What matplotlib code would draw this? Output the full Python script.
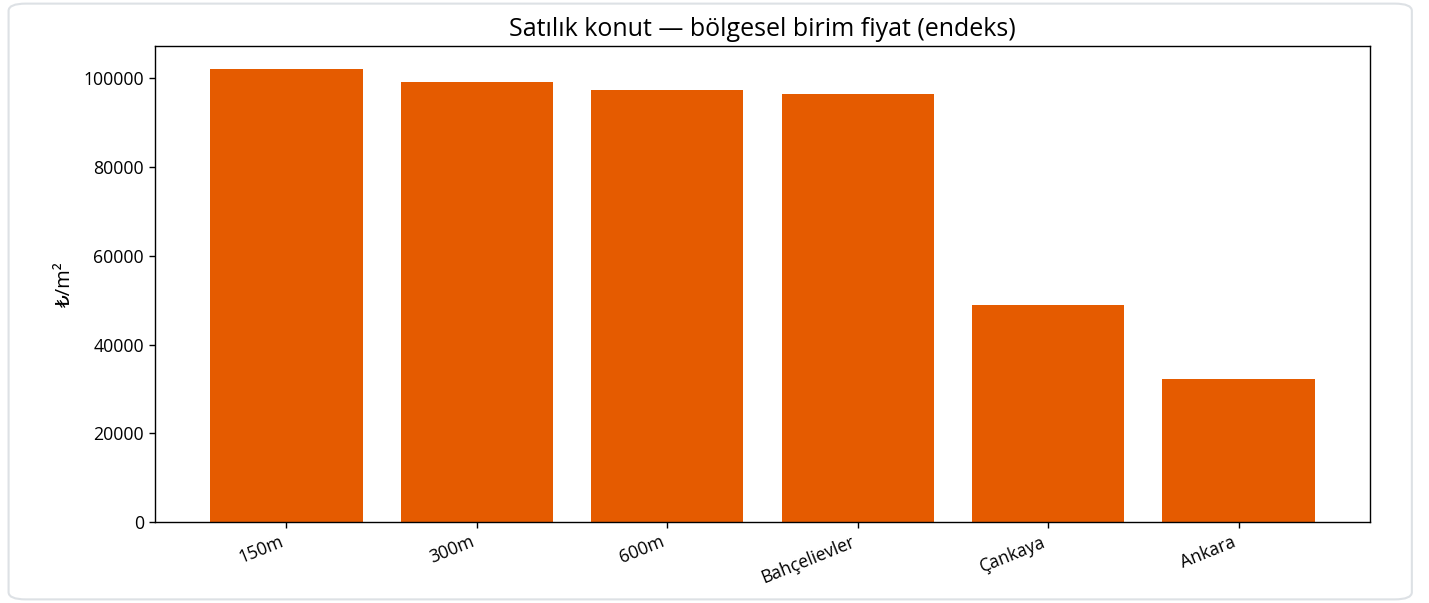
import matplotlib.pyplot as plt
from matplotlib.patches import FancyBboxPatch

regions = ['150m', '300m', '600m', 'Bahçelievler', 'Çankaya', 'Ankara']
prices = [102200, 99250, 97350, 96400, 48980, 32280]

plt.rcParams['font.family'] = ['Open Sans', 'DejaVu Sans']
plt.rcParams['axes.linewidth'] = 1.0
plt.rcParams['xtick.major.size'] = 4.4
plt.rcParams['ytick.major.size'] = 4.4
plt.rcParams['xtick.major.width'] = 1.0
plt.rcParams['ytick.major.width'] = 1.0

fig = plt.figure(figsize=(14.29, 6.03), dpi=100)

# card outline around the chart
card = FancyBboxPatch((0.006, 0.006), 0.982, 0.988,
                      boxstyle='round,pad=0,rounding_size=0.012',
                      transform=fig.transFigure, facecolor='white',
                      edgecolor='#dde1e5', linewidth=1.5, zorder=-1)
fig.patches.append(card)

ax = fig.add_axes([0.1085, 0.1343, 0.8502, 0.7894])
ax.bar(regions, prices, width=0.8, color='#e55b00')
ax.set_title('Satılık konut — bölgesel birim fiyat (endeks)', fontsize=18, pad=7)
ax.set_ylabel('₺/m²', fontsize=14.5, labelpad=6)
ax.tick_params(axis='both', labelsize=12.7)
plt.setp(ax.get_xticklabels(), rotation=22, ha='right')

fig.savefig('out.png', dpi=100)
